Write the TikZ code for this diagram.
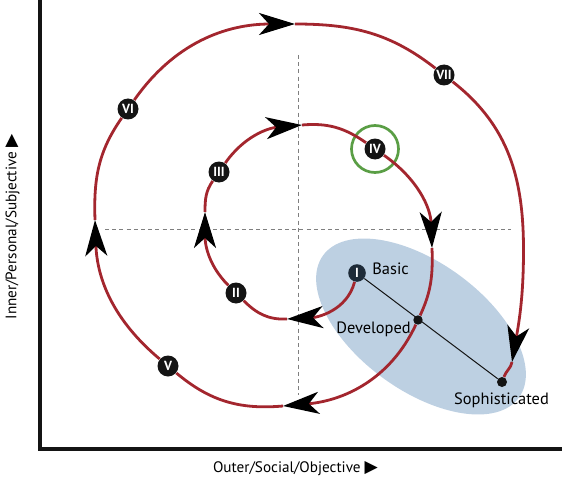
\documentclass[tikz,border=0pt]{standalone}
\usepackage{fontspec}
\setmainfont{PT Sans}
\newfontfamily\symbfont{DejaVu Sans}
\usetikzlibrary{arrows.meta}
\definecolor{spiralred}{HTML}{A3262E}
\definecolor{stageink}{HTML}{141414}
\definecolor{basicink}{HTML}{1E2B38}
\definecolor{ringgreen}{HTML}{5A9E45}
\definecolor{basinblue}{HTML}{BDD0E2}
\definecolor{guidegray}{HTML}{7F7F7F}
\tikzset{
  stage/.style={circle,fill=stageink,text=white,inner sep=0pt,
    minimum size=10.5pt,font=\fontsize{6.6}{6.6}\selectfont\bfseries},
  levelmark/.style={circle,fill=stageink,inner sep=0pt,minimum size=4.7pt},
  leveltag/.style={font=\fontsize{8.2}{9}\selectfont,inner sep=0pt},
  axislabel/.style={font=\fontsize{7.6}{9}\selectfont,inner sep=0pt},
  spiralpath/.style={draw=spiralred,line width=1.4pt},
  spiralarrow/.style={spiralpath,-{Stealth[length=18pt,width=11pt,inset=5pt,color=black]}},
  guide/.style={draw=guidegray,line width=0.5pt,dash pattern=on 2pt off 1.6pt},
}

\begin{document}
\begin{tikzpicture}[x=0.5pt,y=0.5pt]
  \useasboundingbox (0,0) rectangle (562,483);
  % level basin and quadrant guides
  \coordinate (basin) at (421,156.5);
  \fill[basinblue,rotate around={-36:(basin)}] (basin) ellipse [x radius=121,y radius=64];
  \draw[guide] (298,428) -- (298,88);
  \draw[guide] (105,254) -- (511,254);
  % axes
  \draw[stageink,line width=1.65pt] (40,483) -- (40,34) -- (562,34);
  \node[axislabel] (xlab) at (295.5,14) {Outer/Social/Objective~{\symbfont\fontsize{8.6}{9}\selectfont ▶}};
  \node[axislabel,rotate=90] (ylab) at (12.5,256) {Inner/Personal/Subjective~{\symbfont\fontsize{8.6}{9}\selectfont ▶}};
  % stages
  \foreach \n/\x/\y in {II/236/190,III/219/311,IV/375/334,V/168/117,VI/128/374,VII/444/408}
    {\node[stage] (s\n) at (\x,\y) {\n};}
  \node[stage,fill=basicink,minimum size=8.8pt] (sI) at (357,210) {I};
  \draw[ringgreen,line width=1.35pt] (sIV) circle [radius=23.5];
  % levels
  \node[levelmark] (dev) at (418,163) {};
  \node[levelmark,minimum size=5pt] (soph) at (502,101) {};
  \draw[stageink,line width=0.5pt] (sI) -- (soph);
  \node[leveltag,anchor=west] (tbasic) at (372,214) {Basic};
  \node[leveltag] (tdev) at (373.5,154) {Developed};
  \node[leveltag] (tsoph) at (501.5,83) {Sophisticated};
  % spiral
  \foreach \n/\x/\y in {a1/287/164,a2/205/271,a3/302/358,a4/432/235,a5/283/77,a6/95/263,a7/295/459,a8/512/121,rt/523.5/233}
    {\coordinate (\n) at (\x,\y);}
  \foreach \a/\o/\i/\b in {a1/183/315/sII,a2/90/235/sIII,a3/5/145/sIV,a4/-88/65/dev,a5/185/320/sV,
      a6/92/235/sVI,a7/0/142/sVII,sVII/-38/90/rt,a8/260/70/soph}
    {\draw[spiralpath] (\a) to[out=\o,in=\i] (\b);}
  \foreach \a/\o/\i/\b in {sI/255/3/a1,sII/135/270/a2,sIII/55/185/a3,sIV/-35/92/a4,dev/245/5/a5,
      sV/140/272/a6,sVI/55/180/a7,rt/-90/80/a8}
    {\draw[spiralarrow] (\a) to[out=\o,in=\i] (\b);}
\end{tikzpicture}
\end{document}
